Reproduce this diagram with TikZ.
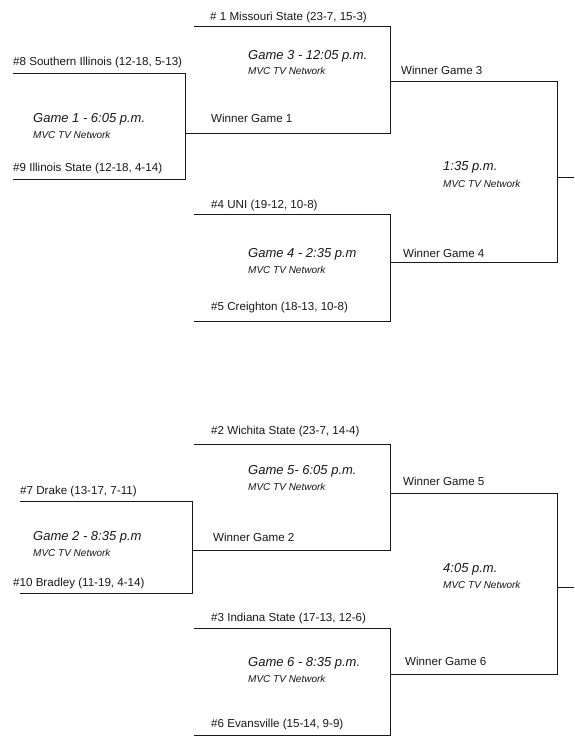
\documentclass[tikz,border=0pt]{standalone}
\usepackage{fontspec}
\setmainfont{Liberation Sans}
\usepackage{tikz}
\definecolor{BracketInk}{RGB}{25,25,25}
\definecolor{LabelInk}{RGB}{25,25,25}
\newcommand{\bracketgame}[6]{%
  \draw[bracketline] (#1,#2)--(#4,#2)--(#4,#3)--(#1,#3);
  \draw[bracketline] (#4,#5)--(#6,#5);}
\tikzset{
  team/.style={anchor=base west,inner sep=0pt,LabelInk,font=\fontsize{11.6}{13}\selectfont},
  gametime/.style={anchor=base west,inner sep=0pt,LabelInk,font=\fontsize{13}{15}\selectfont\itshape},
  tvnet/.style={anchor=base west,inner sep=0pt,LabelInk,font=\fontsize{10}{11}\selectfont\itshape},
  bracketline/.style={line width=0.9pt,BracketInk}}

\begin{document}
\begin{tikzpicture}[x=1pt,y=-1pt]
  \fill[white] (0,0) rectangle (574,747);
  \useasboundingbox (0,0) rectangle (574,747);
  \bracketgame{13}{73}{179}{185}{133}{390}
  \bracketgame{194}{26}{133}{390}{81}{557}
  \bracketgame{194}{214}{321}{390}{262}{557}
  \bracketgame{390}{81}{262}{557}{177}{574}
  \bracketgame{20}{501}{593}{192}{550}{390}
  \bracketgame{194}{444}{550}{390}{493}{557}
  \bracketgame{194}{628}{735}{390}{674}{557}
  \bracketgame{390}{493}{674}{557}{587}{574}
  \node[team] (seed8) at (13,65) {\#8 Southern Illinois (12-18, 5-13)};
  \node[team] (seed9) at (13,171) {\#9 Illinois State (12-18, 4-14)};
  \node[gametime] (g1) at (33,122) {Game 1 - 6:05 p.m.};
  \node[tvnet] (g1tv) at (33,138) {MVC TV Network};
  \node[team] (seed1) at (210,20) {\# 1 Missouri State (23-7, 15-3)};
  \node[gametime] (g3) at (248,59) {Game 3 - 12:05 p.m.};
  \node[tvnet] (g3tv) at (248,74) {MVC TV Network};
  \node[team] (w1) at (211,122) {Winner Game 1};
  \node[team] (seed4) at (211,208) {\#4 UNI (19-12, 10-8)};
  \node[gametime] (g4) at (248,257) {Game 4 - 2:35 p.m};
  \node[tvnet] (g4tv) at (248,273) {MVC TV Network};
  \node[team] (seed5) at (211,310) {\#5 Creighton (18-13, 10-8)};
  \node[team] (w3) at (401,74) {Winner Game 3};
  \node[gametime] (semi1) at (443,170) {1:35 p.m.};
  \node[tvnet] (semi1tv) at (443,187) {MVC TV Network};
  \node[team] (w4) at (403,257) {Winner Game 4};
  \node[team] (seed2) at (211,434) {\#2 Wichita State (23-7, 14-4)};
  \node[gametime] (g5) at (248,474) {Game 5- 6:05 p.m.};
  \node[tvnet] (g5tv) at (248,490) {MVC TV Network};
  \node[team] (seed7) at (20,494) {\#7 Drake (13-17, 7-11)};
  \node[gametime] (g2) at (33,540) {Game 2 - 8:35 p.m};
  \node[tvnet] (g2tv) at (33,556) {MVC TV Network};
  \node[team] (seed10) at (13,586) {\#10 Bradley (11-19, 4-14)};
  \node[team] (w2) at (213,541) {Winner Game 2};
  \node[team] (w5) at (403,485) {Winner Game 5};
  \node[gametime] (semi2) at (443,572) {4:05 p.m.};
  \node[tvnet] (semi2tv) at (443,588) {MVC TV Network};
  \node[team] (seed3) at (211,621) {\#3 Indiana State (17-13, 12-6)};
  \node[gametime] (g6) at (248,666) {Game 6 - 8:35 p.m.};
  \node[tvnet] (g6tv) at (248,682) {MVC TV Network};
  \node[team] (seed6) at (211,727) {\#6 Evansville (15-14, 9-9)};
  \node[team] (w6) at (405,665) {Winner Game 6};
\end{tikzpicture}
\end{document}
